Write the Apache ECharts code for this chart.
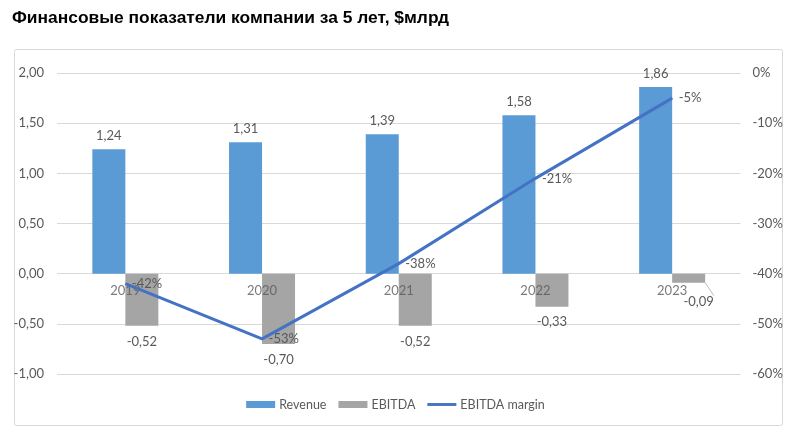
<!DOCTYPE html>
<html><head><meta charset="utf-8">
<script src="https://cdn.jsdelivr.net/npm/echarts@6/dist/echarts.min.js"></script>
<style>html,body{margin:0;padding:0;background:#fff}#c{width:791px;height:438px}</style>
</head><body><div id="c"></div>
<script>
const categories = ['2019','2020','2021','2022','2023'];
const revenue = [1.24, 1.31, 1.39, 1.58, 1.86];
const ebitda = [-0.52, -0.70, -0.52, -0.33, -0.09];
const margin = [-42, -53, -38, -21, -5];
const leftTicks = {min: -1, max: 2, interval: 0.5};
const rightTicks = {min: -60, max: 0, interval: 10};

const fmt2 = v => v.toFixed(2).replace('.', ',');
const FONT = 'Lato';
const FS = 13;
const TXT = '#595959';
const chart = echarts.init(document.getElementById('c'), null, {renderer: 'canvas'});
chart.setOption({
  animation: false,
  backgroundColor: '#fff',
  title: {text: 'Финансовые показатели компании за 5 лет, $млрд', left: 7, top: 5,
    textStyle: {fontFamily: 'Liberation Sans', fontWeight: 'bold', fontSize: 17.4, color: '#000'}},
  graphic: [{type: 'rect', shape: {x: 14.5, y: 49.5, width: 768, height: 376, r: 2},
    style: {fill: 'none', stroke: '#D9D9D9', lineWidth: 1}, silent: true, z: -10}],
  grid: {left: 57, right: 50.5, top: 73, bottom: 64},
  legend: {bottom: 22, left: 'center', itemWidth: 29, itemHeight: 7, itemGap: 12,
    textStyle: {fontFamily: FONT, fontSize: 12.5, color: TXT, padding: [0, 0, 0, -1]},
    data: [{name: 'Revenue', icon: 'rect'}, {name: 'EBITDA', icon: 'rect'},
      {name: 'EBITDA margin', icon: 'path://M0,0 L30,0 L30,3 L0,3 Z', itemStyle: {color: '#4472C4', opacity: 1}}]},
  xAxis: {type: 'category', data: categories,
    axisLine: {show: false},
    axisTick: {show: false},
    axisLabel: {show: false}},
  yAxis: [
    {type: 'value', min: leftTicks.min, max: leftTicks.max, interval: leftTicks.interval,
      axisLabel: {fontFamily: FONT, fontSize: FS, color: TXT, margin: 13, formatter: fmt2},
      splitLine: {lineStyle: {color: '#D9D9D9'}}, axisLine: {show: false}, axisTick: {show: false}},
    {type: 'value', min: rightTicks.min, max: rightTicks.max, interval: rightTicks.interval,
      axisLabel: {fontFamily: FONT, fontSize: FS, color: TXT, margin: 12, formatter: v => v + '%'},
      splitLine: {show: false}, axisLine: {show: false}, axisTick: {show: false}}
  ],
  series: [
    {name: 'Revenue', type: 'bar', data: revenue, barWidth: 33, barGap: '0%',
      itemStyle: {color: '#5B9BD5'},
      label: {show: true, position: 'top', distance: 7, fontFamily: FONT, fontSize: FS, color: TXT,
        formatter: p => fmt2(p.value)}},
    {name: 'EBITDA', type: 'bar',
      data: ebitda.map((v, i) => i === 4 ? {value: v, label: {offset: [10, 4]}, labelLine: {show: true}} : v),
      barWidth: 33, barGap: '0%',
      itemStyle: {color: '#A5A5A5'},
      labelLine: {lineStyle: {color: '#BFBFBF', width: 1}},
      label: {show: true, position: 'bottom', distance: 9, fontFamily: FONT, fontSize: FS, color: TXT,
        formatter: p => fmt2(p.value)}},
    {name: 'catLabels', type: 'scatter', data: categories.map(c => [c, 0]), symbolSize: 0,
      silent: true, z: 3,
      label: {show: true, position: 'bottom', distance: 11, fontFamily: FONT, fontSize: FS, color: TXT,
        formatter: p => p.value[0]}},
    {name: 'EBITDA margin', type: 'line', yAxisIndex: 1, data: margin, symbol: 'circle', symbolSize: 1,
      showSymbol: true,
      lineStyle: {color: '#4472C4', width: 3}, itemStyle: {color: '#4472C4'}, z: 5,
      label: {show: true, position: 'right', distance: 6, fontFamily: FONT, fontSize: FS, color: TXT,
        formatter: p => p.value + '%'}}
  ]
});
</script></body></html>
